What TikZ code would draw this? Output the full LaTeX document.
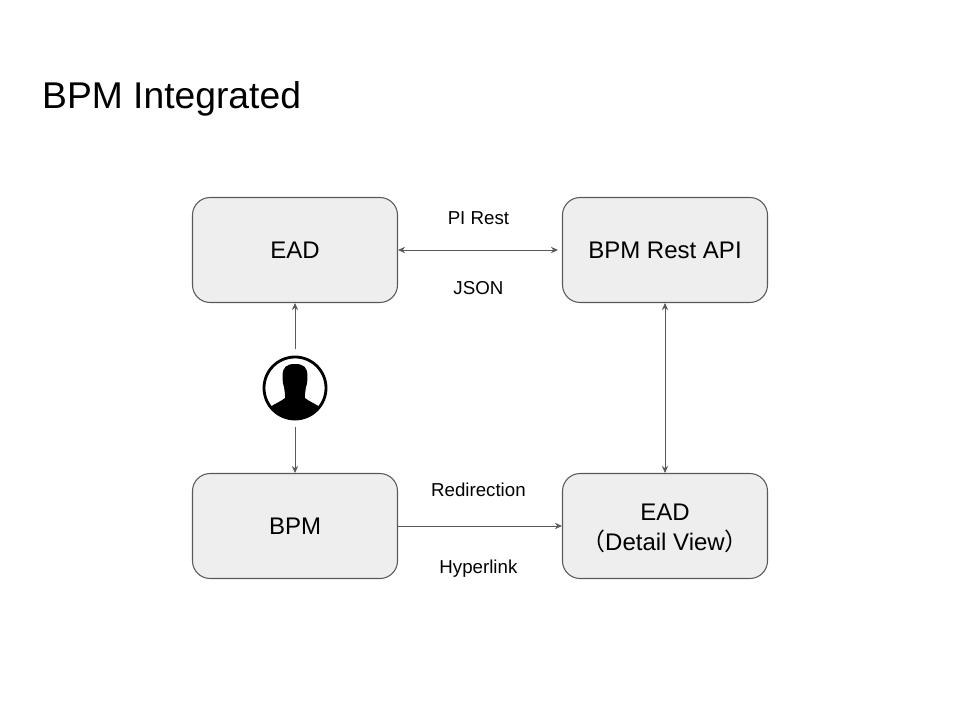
\documentclass[tikz,border=0pt]{standalone}
\usepackage{fontspec}
\setmainfont{Liberation Sans}
\newfontfamily\cjkfont{Noto Sans CJK SC}
\usetikzlibrary{arrows.meta,positioning}
\definecolor{boxline}{HTML}{595959}
\definecolor{boxfill}{HTML}{EEEEEE}

\begin{document}
\begin{tikzpicture}[
    sysbox/.style={draw=boxline, fill=boxfill, line width=0.75pt, rounded corners=0.44cm, minimum width=5.125cm, minimum height=2.625cm, align=center, text=black, font=\fontsize{17.07}{21}\selectfont},
    link/.style={draw=boxline, line width=0.6pt, {Stealth[length=5pt,width=4.5pt]}-{Stealth[length=5pt,width=4.5pt]}},
    oneway/.style={draw=boxline, line width=0.6pt, -{Stealth[length=5pt,width=4.5pt]}},
    linklabel/.style={text=black, xshift=-0.04cm, font=\fontsize{13.3}{16}\selectfont}]
    \useasboundingbox (0, 0) rectangle (24, 18);
    \node[anchor=west, font=\fontsize{26.5}{32}\selectfont] (title) at (0.93, 15.52) {BPM Integrated};
    \node[sysbox] (ead) at (7.375, 11.75) {EAD};
    \node[sysbox] (api) at (16.625, 11.75) {BPM Rest API};
    \node[sysbox] (bpm) at (7.375, 4.85) {BPM};
    \node[sysbox] (detail) at (16.625, 4.85) {\rule{0pt}{15pt}EAD\\[0pt]{\cjkfont （}Detail View{\cjkfont ）}};
    \node[draw, circle, line width=2pt, fill=white, minimum size=1.55cm, inner sep=0pt, outer sep=0.2cm] (user) at (7.375, 8.3) {};
    % silhouette, clipped by the circle
    \begin{scope}[shift={(user.center)}]
        \clip (0, 0) circle (0.76cm);
        \fill[black] (-0.31, 0.3) .. controls (-0.31, 0.52) and (-0.22, 0.6) .. (0, 0.6)
            .. controls (0.22, 0.6) and (0.31, 0.52) .. (0.31, 0.3)
            .. controls (0.31, 0.15) and (0.3, 0.08) .. (0.27, 0)
            .. controls (0.26, -0.1) and (0.24, -0.15) .. (0.25, -0.25)
            .. controls (0.36, -0.34) and (0.48, -0.38) .. (0.6, -0.46)
            -- (0.62, -0.9) -- (-0.62, -0.9) -- (-0.6, -0.46)
            .. controls (-0.48, -0.38) and (-0.36, -0.34) .. (-0.25, -0.25)
            .. controls (-0.24, -0.15) and (-0.26, -0.1) .. (-0.27, 0)
            .. controls (-0.3, 0.08) and (-0.31, 0.15) .. (-0.31, 0.3) -- cycle;
    \end{scope}
    \draw [oneway] (user) -- (ead);
    \draw [oneway] (user) -- (bpm);
    \draw [link, shorten >=0.1cm] (ead) -- node[linklabel, yshift=0.8cm] (pirest) {PI Rest} node[linklabel, yshift=-0.95cm] (json) {JSON} (api);
    \draw [link] (api) -- (detail);
    \draw [oneway] (bpm) -- node[linklabel, yshift=0.9cm] (redirect) {Redirection} node[linklabel, yshift=-1.06cm] (hyperlink) {Hyperlink} (detail);
\end{tikzpicture}
\end{document}
